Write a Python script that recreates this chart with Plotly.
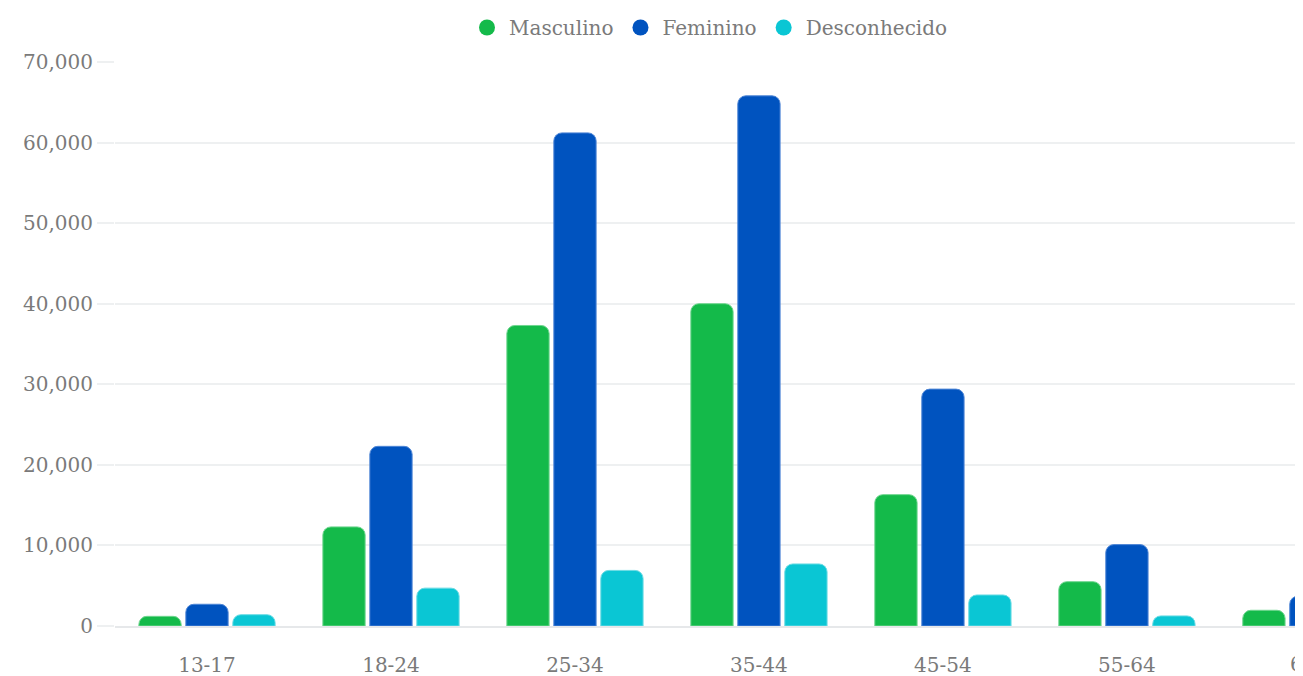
import plotly.graph_objects as go

categories = ["13-17", "18-24", "25-34", "35-44", "45-54", "55-64", "65+"]
masculino = [1200, 12300, 37300, 40000, 16300, 5500, 1950]
feminino = [2700, 22300, 61200, 65800, 29400, 10100, 3700]
desconhecido = [1400, 4700, 6900, 7700, 3850, 1250, 600]

series = [
    ("Masculino", masculino, "#14BA4A", "#6fd68f"),
    ("Feminino", feminino, "#0053BF", "#4f86d6"),
    ("Desconhecido", desconhecido, "#0AC6D4", "#6adbe4"),
]

FONT = "DejaVu Serif, serif"
TEXT = "#7a7a7a"
GRID = "#eef0f1"

fig = go.Figure()
for name, vals, col, edge in series:
    fig.add_trace(go.Bar(
        x=categories, y=vals, name=name, showlegend=False,
        marker=dict(color=col, line=dict(color=edge, width=1)),
    ))
# legend entries with circle markers
for name, vals, col, edge in series:
    fig.add_trace(go.Scatter(
        x=[None], y=[None], mode="markers", name=name,
        marker=dict(color=col, size=16, symbol="circle"),
    ))

x_end = 5.957
plot_h = 565
fig.update_layout(
    width=1295, height=668,
    margin=dict(l=107, r=0, t=53, b=50),
    paper_bgcolor="white", plot_bgcolor="white",
    barmode="group", bargap=0.234, bargroupgap=0.1, barcornerradius=8,
    font=dict(family=FONT, size=20, color=TEXT),
    legend=dict(orientation="h", x=0.5, xanchor="center", y=1 + 35 / plot_h,
                yanchor="middle", font=dict(family=FONT, size=20, color=TEXT),
                itemwidth=34, tracegroupgap=0),
    xaxis=dict(range=[-0.5, x_end], showgrid=False, showline=True, linecolor="#e6e8ea",
               linewidth=2, ticks="", ticklabelstandoff=20,
               tickfont=dict(family=FONT, size=20, color=TEXT)),
    yaxis=dict(range=[0, 70000], dtick=10000, tickformat=",", showgrid=True,
               gridcolor=GRID, gridwidth=2, zeroline=False, showline=False,
               ticks="outside", ticklen=17, tickcolor=GRID, tickwidth=2,
               tickfont=dict(family=FONT, size=20, color=TEXT)),
)

# tick label for the last category, partly outside the visible area
idx = len(categories) - 1
fig.add_annotation(
    x=(idx + 0.5) / (x_end + 0.5), xref="paper", y=0, yref="paper",
    yshift=-38, yanchor="middle", text=categories[idx], showarrow=False,
    font=dict(family=FONT, size=20, color=TEXT), xanchor="center",
)

fig.write_html("out.html")
